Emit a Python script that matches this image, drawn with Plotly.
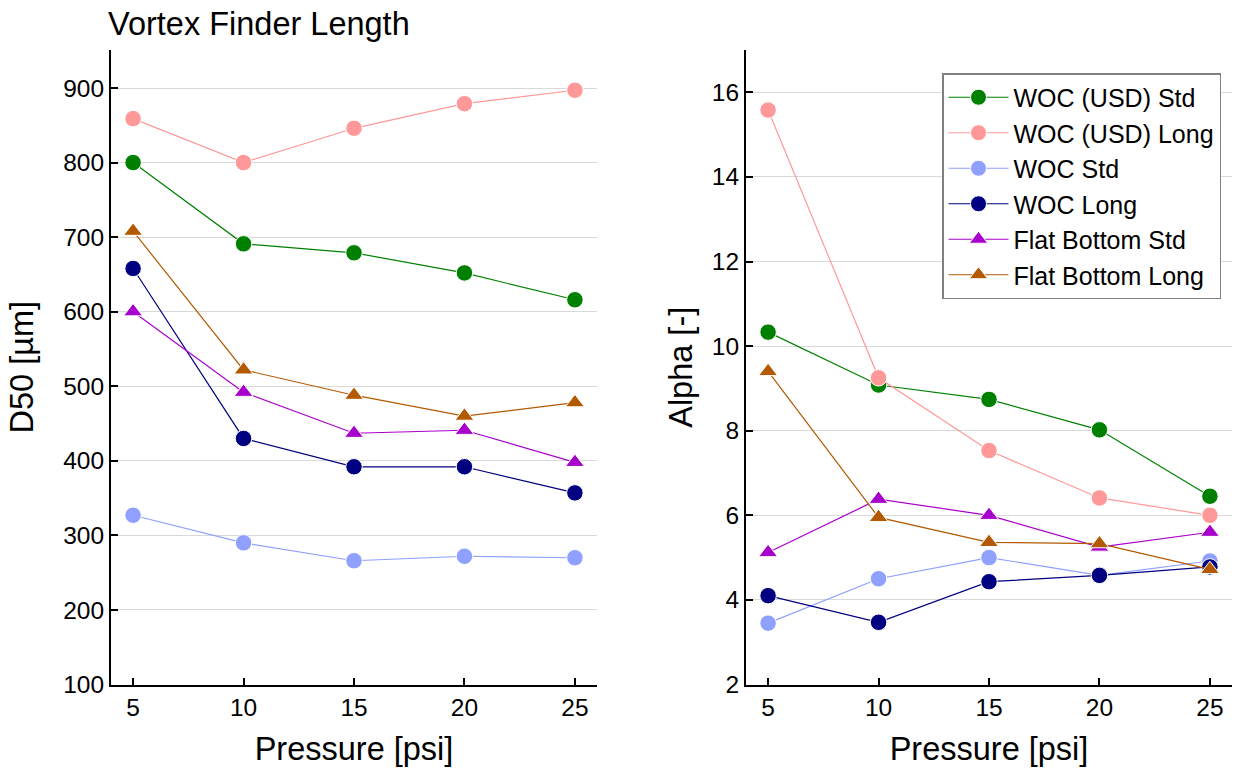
import plotly.graph_objects as go

pressure = [5, 10, 15, 20, 25]

names = ["WOC (USD) Std", "WOC (USD) Long", "WOC Std", "WOC Long",
         "Flat Bottom Std", "Flat Bottom Long"]
colors = ["#008000", "#ff9999", "#8fa0ff", "#000080", "#a800cc", "#b35900"]
symbols = ["circle", "circle", "circle", "circle", "triangle-up", "triangle-up"]

d50_usd_std = [800, 691, 679, 652, 616]
d50_usd_long = [859, 800, 846, 879, 897]
d50_woc_std = [327, 290, 266, 272, 270]
d50_woc_long = [658, 430, 392, 392, 357]
d50_fb_std = [600, 492, 437, 441, 398]
d50_fb_long = [708, 522, 488, 460, 478]

alpha_usd_std = [10.33, 9.08, 8.74, 8.02, 6.45]
alpha_usd_long = [15.58, 9.25, 7.53, 6.41, 6.0]
alpha_woc_std = [3.45, 4.5, 5.0, 4.58, 4.92]
alpha_woc_long = [4.1, 3.47, 4.43, 4.58, 4.78]
alpha_fb_std = [5.12, 6.38, 6.0, 5.25, 5.6]
alpha_fb_long = [9.4, 5.95, 5.36, 5.33, 4.72]

d50 = [d50_usd_std, d50_usd_long, d50_woc_std, d50_woc_long, d50_fb_std, d50_fb_long]
alpha = [alpha_usd_std, alpha_usd_long, alpha_woc_std, alpha_woc_long, alpha_fb_std, alpha_fb_long]

font = "Liberation Sans, Arial, sans-serif"
W, H = 1234, 769
fig = go.Figure()

for i in range(6):
    for data, xa, ya, show in [(d50[i], "x", "y", False), (alpha[i], "x2", "y2", True)]:
        fig.add_trace(go.Scatter(
            x=pressure, y=data, xaxis=xa, yaxis=ya, name=names[i],
            mode="lines+markers", showlegend=show,
            line=dict(color=colors[i], width=1.2),
            marker=dict(symbol=symbols[i], size=16.5,
                        color=colors[i], line=dict(color="white", width=1)),
        ))

axis_common = dict(showline=True, linecolor="black", linewidth=2, ticks="inside",
                   ticklen=7, tickwidth=2, tickcolor="black", mirror=False,
                   automargin=False, zeroline=False,
                   tickfont=dict(family=font, size=24.5, color="black"))

xdom1 = [111 / W, 597 / W]
xdom2 = [746 / W, 1232 / W]
ydom = [1 - 684.5 / H, 1 - 50 / H]

fig.update_layout(
    width=W, height=H,
    margin=dict(l=0, r=0, t=0, b=0),
    paper_bgcolor="white", plot_bgcolor="white",
    font=dict(family=font, color="black"),
    xaxis=dict(domain=xdom1, range=[4, 26], tickvals=pressure, showgrid=False,
               title=dict(text="Pressure [psi]", font=dict(size=32.5), standoff=17),
               anchor="y", **axis_common),
    yaxis=dict(domain=ydom, range=[100, 951], tickvals=list(range(100, 1000, 100)),
               showgrid=True, gridcolor="#d9d9d9", gridwidth=1,
               title=dict(text="D50 [µm]", font=dict(size=32.5), standoff=20),
               anchor="x", **axis_common),
    xaxis2=dict(domain=xdom2, range=[4, 26], tickvals=pressure, showgrid=False,
                title=dict(text="Pressure [psi]", font=dict(size=32.5), standoff=17),
                anchor="y2", **axis_common),
    yaxis2=dict(domain=ydom, range=[2, 17], tickvals=list(range(2, 17, 2)),
                showgrid=True, gridcolor="#d9d9d9", gridwidth=1,
                title=dict(text="Alpha [-]", font=dict(size=32.5), standoff=9),
                anchor="x2", **axis_common),
    legend=dict(x=942 / W, y=1 - 73 / H, xanchor="left", yanchor="top",
                bordercolor="#808080", borderwidth=1.5, bgcolor="white",
                font=dict(family=font, size=25, color="black"),
                tracegroupgap=0, itemwidth=60),
    annotations=[dict(text="Vortex Finder Length", x=106 / W, y=1 - 24 / H,
                      xref="paper", yref="paper", xanchor="left", yanchor="middle",
                      showarrow=False, font=dict(family=font, size=32.5, color="black"))],
)

fig.write_html("out.html")
